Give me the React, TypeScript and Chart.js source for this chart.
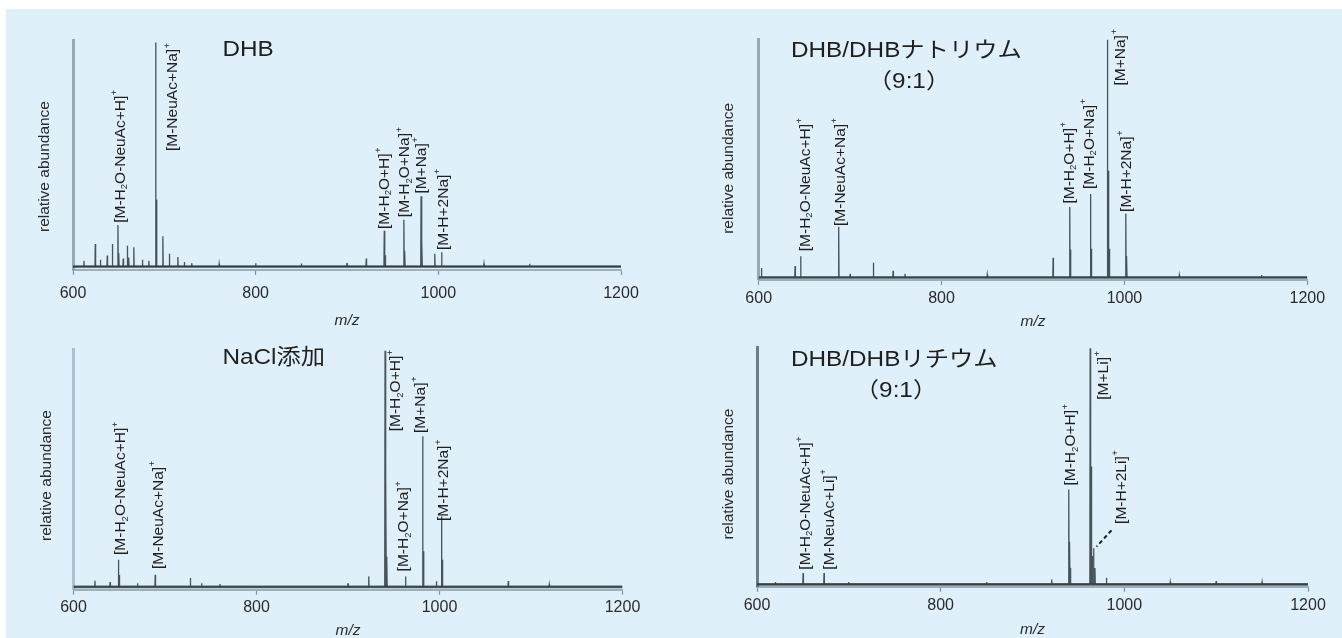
import React, { useEffect, useRef } from 'react';
import { Chart, registerables } from 'chart.js';

Chart.register(...registerables);

// ---------------- data ----------------
const X_MIN = 600;
const X_MAX = 1200;
const xTickValues = [600, 800, 1000, 1200];
const xTickLabels = ['600', '800', '1000', '1200'];
const xAxisTitle = 'm/z';
const yAxisTitle = 'relative abundance';

const titleDHB = ['DHB'];
const titleDHBNa = ['DHB/DHBナトリウム', '（9:1）'];
const titleNaCl = ['NaCl添加'];
const titleDHBLi = ['DHB/DHBリチウム', '（9:1）'];

// Panel 1: DHB
const dhbMz = [612, 624.4, 630, 637.5, 643.1, 649.2, 650.2, 655, 659.5, 661, 666.6, 676, 683, 690.5, 691.5, 698.4, 705.5, 714.8, 721.9, 730, 760, 800, 850, 900, 921.1, 940.8, 941.8, 962.3, 963.3, 981.1, 982.1, 996.1, 1003.6, 1050, 1100];
const dhbAbund = [2.5, 9.9, 3, 4.9, 9.9, 18.3, 6, 3.5, 9.2, 4, 8.5, 3, 2.5, 98.9, 29.6, 13.4, 5.6, 4.2, 2, 1.5, 1.2, 1.5, 1.3, 1.5, 3.5, 15.8, 5, 20.7, 7, 31, 11.3, 5.6, 6.3, 1.2, 1.2];
const dhbLabels = ['[M-H_2O-NeuAc+H]^+', '[M-NeuAc+Na]^+', '[M-H_2O+H]^+', '[M-H_2O+Na]^+', '[M+Na]^+', '[M-H+2Na]^+'];
const dhbLabelMz = [650.6, 707.8, 939.8, 961.9, 980.3, 1004];
const dhbLabelAt = [19.3, 51, 16.6, 21.8, 32.2, 7.3];

// Panel 2: DHB/DHB sodium (9:1)
const naMz = [603, 639.8, 645.9, 687.5, 700, 725.4, 747, 760, 850, 922, 940.2, 941.2, 962.7, 963.7, 981.4, 982.4, 983.4, 1001.5, 1002.5, 1060, 1150];
const naAbund = [4, 4.8, 8.9, 21.3, 1.5, 6.2, 2.8, 1.5, 1.2, 8.3, 29.6, 11.7, 35, 12, 99.7, 44.7, 12, 26.8, 9, 1, 1];
const naLabels = ['[M-H_2O-NeuAc+H]^+', '[M-NeuAc+Na]^+', '[M-H_2O+H]^+', '[M-H_2O+Na]^+', '[M+Na]^+', '[M-H+2Na]^+'];
const naLabelMz = [650, 688, 938.4, 960.4, 994.5, 1001];
const naLabelAt = [11, 21.6, 31, 37.1, 80.5, 27.5];

// Panel 3: NaCl added
const naclMz = [623.4, 640, 649.1, 650.1, 670, 689.3, 727.7, 740, 760, 900, 922.7, 940.5, 941.5, 942.5, 962.9, 981.6, 982.6, 996.6, 1002.2, 1003.2, 1075.2, 1120];
const naclAbund = [2.6, 2, 11.4, 5, 1.5, 5.1, 3.7, 1.5, 1.2, 1.5, 4.4, 99.3, 46, 12.7, 4.4, 63.3, 15, 2.4, 29.6, 11.4, 2.4, 1];
const naclLabels = ['[M-H_2O-NeuAc+H]^+', '[M-NeuAc+Na]^+', '[M-H_2O+H]^+', '[M-H_2O+Na]^+', '[M+Na]^+', '[M-H+2Na]^+'];
const naclLabelMz = [650.5, 691.2, 951.2, 960, 977.9, 1003.6];
const naclLabelAt = [13.4, 7.5, 65.4, 6.5, 64.7, 27.7];

// Panel 4: DHB/DHB lithium (9:1)
const liMz = [620, 650.2, 673, 700, 850, 920.9, 939.5, 940.5, 941.5, 962.8, 963.8, 964.8, 966.5, 968, 980.5, 1050, 1100, 1150];
const liAbund = [1, 4.8, 4.8, 1, 1, 2, 40, 17.9, 7, 99.6, 49.7, 12, 15.2, 6.9, 2.8, 1, 1.4, 1];
const liLabels = ['[M-H_2O-NeuAc+H]^+', '[M-NeuAc+Li]^+', '[M-H_2O+H]^+', '[M+Li]^+', '[M-H+2Li]^+'];
const liLabelMz = [651.2, 677.7, 940.4, 975.8, 995.3];
const liLabelAt = [6.2, 6.2, 41.7, 77.9, 25.5];
const liLeaderMz = [986, 969.7];
const liLeaderAt = [22.8, 15.9];

// ---------------- styles / layout ----------------
const FONT = "'Liberation Sans', Arial, sans-serif";
const CJK_FONT = "'Liberation Sans', 'Noto Sans CJK JP', sans-serif";
const TEXT_COLOR = '#1f1f1f';
const TICK_SIZE = 16;
const XTITLE_SIZE = 15.5;
const LABEL_SIZE = 15.5;
const TITLE_SIZE = 21.5;
const TITLE_STRETCH = 1.13;
const TICK_LEN = 5;

const panels = [
  {
    mz: dhbMz, ab: dhbAbund, labels: dhbLabels, labelMz: dhbLabelMz, labelAt: dhbLabelAt, title: titleDHB,
    L: { divLeft: 0, divTop: 0, width: 671, plotLeft: 73, plotRight: 621, top: 40, baseline: 275, yMin: -1.5, labelY: 301.7, xTitleY: 320.5, yTitleX: 45, yTitleY: 166.5,
      titlePos: [{ x: 222.5, y: 50, align: 'left' }], yAxisColor: 'rgba(125,145,158,0.75)' },
  },
  {
    mz: naMz, ab: naAbund, labels: naLabels, labelMz: naLabelMz, labelAt: naLabelAt, title: titleDHBNa,
    L: { divLeft: 671, divTop: 0, width: 671, plotLeft: 758.7, plotRight: 1307.3, top: 39, baseline: 281.7, yMin: -1, labelY: 303, xTitleY: 321, yTitleX: 728.8, yTitleY: 168.3,
      titlePos: [{ x: 791, y: 51, align: 'left' }, { x: 909, y: 82, align: 'center' }], yAxisColor: 'rgba(125,145,158,0.75)' },
  },
  {
    mz: naclMz, ab: naclAbund, labels: naclLabels, labelMz: naclLabelMz, labelAt: naclLabelAt, title: titleNaCl,
    L: { divLeft: 0, divTop: 319, width: 671, plotLeft: 73.5, plotRight: 622.5, top: 349, baseline: 590.5, yMin: -1.2, labelY: 611.7, xTitleY: 630.5, yTitleX: 47, yTitleY: 475.5,
      titlePos: [{ x: 222.5, y: 358, align: 'left' }], yAxisColor: 'rgba(150,172,185,0.7)' },
  },
  {
    mz: liMz, ab: liAbund, labels: liLabels, labelMz: liLabelMz, labelAt: liLabelAt, title: titleDHBLi,
    leaderMz: liLeaderMz, leaderAt: liLeaderAt,
    L: { divLeft: 671, divTop: 319, width: 671, plotLeft: 757, plotRight: 1308, top: 347.3, baseline: 589, yMin: -1, labelY: 610.7, xTitleY: 629.3, yTitleX: 728.8, yTitleY: 474,
      titlePos: [{ x: 791, y: 360, align: 'left' }, { x: 896, y: 390.7, align: 'center' }], yAxisColor: 'rgba(80,95,105,0.8)' },
  },
];

function spectrum(mz: number[], ab: number[]) {
  const idx = mz.map((_, i) => i).sort((a, b) => mz[a] - mz[b]);
  const pts: { x: number; y: number }[] = [{ x: X_MIN, y: 0 }];
  for (const i of idx) {
    pts.push({ x: mz[i] - 0.35, y: 0 }, { x: mz[i], y: ab[i] }, { x: mz[i] + 0.35, y: 0 });
  }
  pts.push({ x: X_MAX, y: 0 });
  return pts;
}

function parseRich(s: string) {
  const segs: { t: string; k: number }[] = [];
  let buf = '';
  for (let i = 0; i < s.length; i++) {
    const c = s[i];
    if ((c === '_' || c === '^') && i + 1 < s.length) {
      if (buf) { segs.push({ t: buf, k: 0 }); buf = ''; }
      segs.push({ t: s[i + 1], k: c === '_' ? 1 : 2 });
      i++;
    } else buf += c;
  }
  if (buf) segs.push({ t: buf, k: 0 });
  return segs;
}

function drawRich(ctx: CanvasRenderingContext2D, s: string, px: number, py: number) {
  ctx.save();
  ctx.translate(px, py);
  ctx.rotate(-Math.PI / 2);
  ctx.textAlign = 'left';
  ctx.textBaseline = 'alphabetic';
  const base = LABEL_SIZE * 0.36;
  let x = 0;
  for (const seg of parseRich(s)) {
    if (seg.k === 0) {
      ctx.font = `${LABEL_SIZE}px ${FONT}`;
      ctx.fillText(seg.t, x, base);
    } else if (seg.k === 1) {
      ctx.font = `${LABEL_SIZE * 0.62}px ${FONT}`;
      ctx.fillText(seg.t, x, base + 2.5);
    } else {
      ctx.font = `${LABEL_SIZE * 0.62}px ${FONT}`;
      ctx.fillText(seg.t, x + 0.5, base - 7.5);
    }
    x += ctx.measureText(seg.t).width + (seg.k === 2 ? 0.5 : 0);
  }
  ctx.restore();
}

function makeAnnot(cfg: any) {
  return {
    id: 'annot',
    afterDraw(chart: any) {
      const ctx: CanvasRenderingContext2D = chart.ctx;
      const xs = chart.scales.x;
      const ys = chart.scales.y;
      const L = cfg.L;
      const ox = L.divLeft;
      const oy = L.divTop;
      ctx.save();
      ctx.fillStyle = TEXT_COLOR;
      // panel titles
      cfg.title.forEach((t: string, i: number) => {
        const p = L.titlePos[i];
        ctx.save();
        ctx.translate(p.x - ox, p.y - oy);
        ctx.scale(TITLE_STRETCH, 1);
        ctx.font = `${TITLE_SIZE}px ${CJK_FONT}`;
        ctx.textAlign = p.align;
        ctx.textBaseline = 'middle';
        ctx.fillText(t, 0, 0);
        ctx.restore();
      });
      // y axis title
      ctx.save();
      ctx.translate(L.yTitleX - ox, L.yTitleY - oy);
      ctx.rotate(-Math.PI / 2);
      ctx.font = `${LABEL_SIZE}px ${FONT}`;
      ctx.textAlign = 'center';
      ctx.textBaseline = 'middle';
      ctx.fillStyle = '#2a2a2a';
      ctx.fillText(yAxisTitle, 0, 0);
      ctx.restore();
      // peak labels
      cfg.labels.forEach((s: string, i: number) => {
        drawRich(ctx, s, xs.getPixelForValue(cfg.labelMz[i]), ys.getPixelForValue(cfg.labelAt[i]));
      });
      // leader line
      if (cfg.leaderMz) {
        ctx.beginPath();
        ctx.setLineDash([4, 3]);
        ctx.lineWidth = 2;
        ctx.strokeStyle = '#1a1a1a';
        ctx.moveTo(xs.getPixelForValue(cfg.leaderMz[0]), ys.getPixelForValue(cfg.leaderAt[0]));
        ctx.lineTo(xs.getPixelForValue(cfg.leaderMz[1]), ys.getPixelForValue(cfg.leaderAt[1]));
        ctx.stroke();
      }
      ctx.restore();
    },
  };
}

function Panel({ cfg }: { cfg: any }) {
  const ref = useRef<HTMLCanvasElement>(null);
  const L = cfg.L;
  const lhTick = TICK_SIZE * 1.2;
  const lhTitle = XTITLE_SIZE * 1.2;
  const plotBottom = L.top + ((L.baseline - L.top) * (100 - L.yMin)) / 100;
  const tickPad = L.labelY - plotBottom - TICK_LEN - lhTick / 2;
  const titlePadTop = Math.max(0, L.xTitleY - lhTitle / 2 - (L.labelY + lhTick / 2));
  const contentBottom = L.labelY + lhTick / 2 + titlePadTop + lhTitle;
  const H = Math.ceil(contentBottom - L.divTop);
  const padBottom = H - (contentBottom - L.divTop);
  const W = L.width;

  useEffect(() => {
    if (!ref.current) return;
    const chart = new Chart(ref.current, {
      type: 'line',
      data: {
        datasets: [
          {
            data: [{ x: X_MIN, y: 0 }, { x: X_MAX, y: 0 }],
            borderColor: 'rgba(52,62,68,0.8)',
            borderWidth: 2.6,
            pointRadius: 0,
          },
          {
            data: spectrum(cfg.mz, cfg.ab),
            borderColor: 'rgba(45,55,62,0.85)',
            borderWidth: 1.3,
            pointRadius: 0,
            tension: 0,
          },
        ],
      },
      options: {
        responsive: false,
        animation: false,
        events: [],
        parsing: false,
        layout: {
          padding: {
            left: L.plotLeft - L.divLeft,
            right: L.divLeft + W - L.plotRight,
            top: L.top - L.divTop,
            bottom: padBottom,
          },
        },
        plugins: { legend: { display: false }, tooltip: { enabled: false }, title: { display: false } },
        scales: {
          x: {
            type: 'linear',
            min: X_MIN,
            max: X_MAX,
            ticks: {
              stepSize: 200,
              autoSkip: false,
              maxRotation: 0,
              padding: tickPad,
              color: '#2b2b2b',
              font: { family: FONT, size: TICK_SIZE },
              callback: (v: any) => {
                const i = xTickValues.indexOf(Number(v));
                return i >= 0 ? xTickLabels[i] : '';
              },
            },
            grid: {
              drawOnChartArea: false,
              drawTicks: true,
              tickLength: TICK_LEN,
              tickColor: 'rgba(90,105,115,0.7)',
              tickWidth: 1.2,
            },
            border: { display: true, color: 'rgba(105,120,130,0.55)', width: 2 },
            title: {
              display: true,
              text: xAxisTitle,
              color: '#2b2b2b',
              font: { family: FONT, size: XTITLE_SIZE, style: 'italic' },
              padding: { top: titlePadTop, bottom: 0 },
            },
          },
          y: {
            type: 'linear',
            min: L.yMin,
            max: 100,
            ticks: { display: false },
            grid: { display: false, drawTicks: false },
            border: { display: true, color: L.yAxisColor, width: 3 },
          },
        },
      },
      plugins: [makeAnnot(cfg)],
    } as any);
    return () => chart.destroy();
  }, []);

  return (
    <canvas
      ref={ref}
      width={W}
      height={H}
      style={{ position: 'absolute', left: L.divLeft, top: L.divTop, width: W, height: H, display: 'block' }}
    />
  );
}

export default function App() {
  return (
    <div style={{ position: 'absolute', left: 0, top: 0, width: 1342, height: 638, overflow: 'hidden', background: '#ffffff' }}>
      <div style={{ position: 'absolute', left: 6, top: 9, right: 0, bottom: 0, background: '#dff0fa' }} />
      {panels.map((p, i) => (
        <Panel key={i} cfg={p} />
      ))}
    </div>
  );
}
